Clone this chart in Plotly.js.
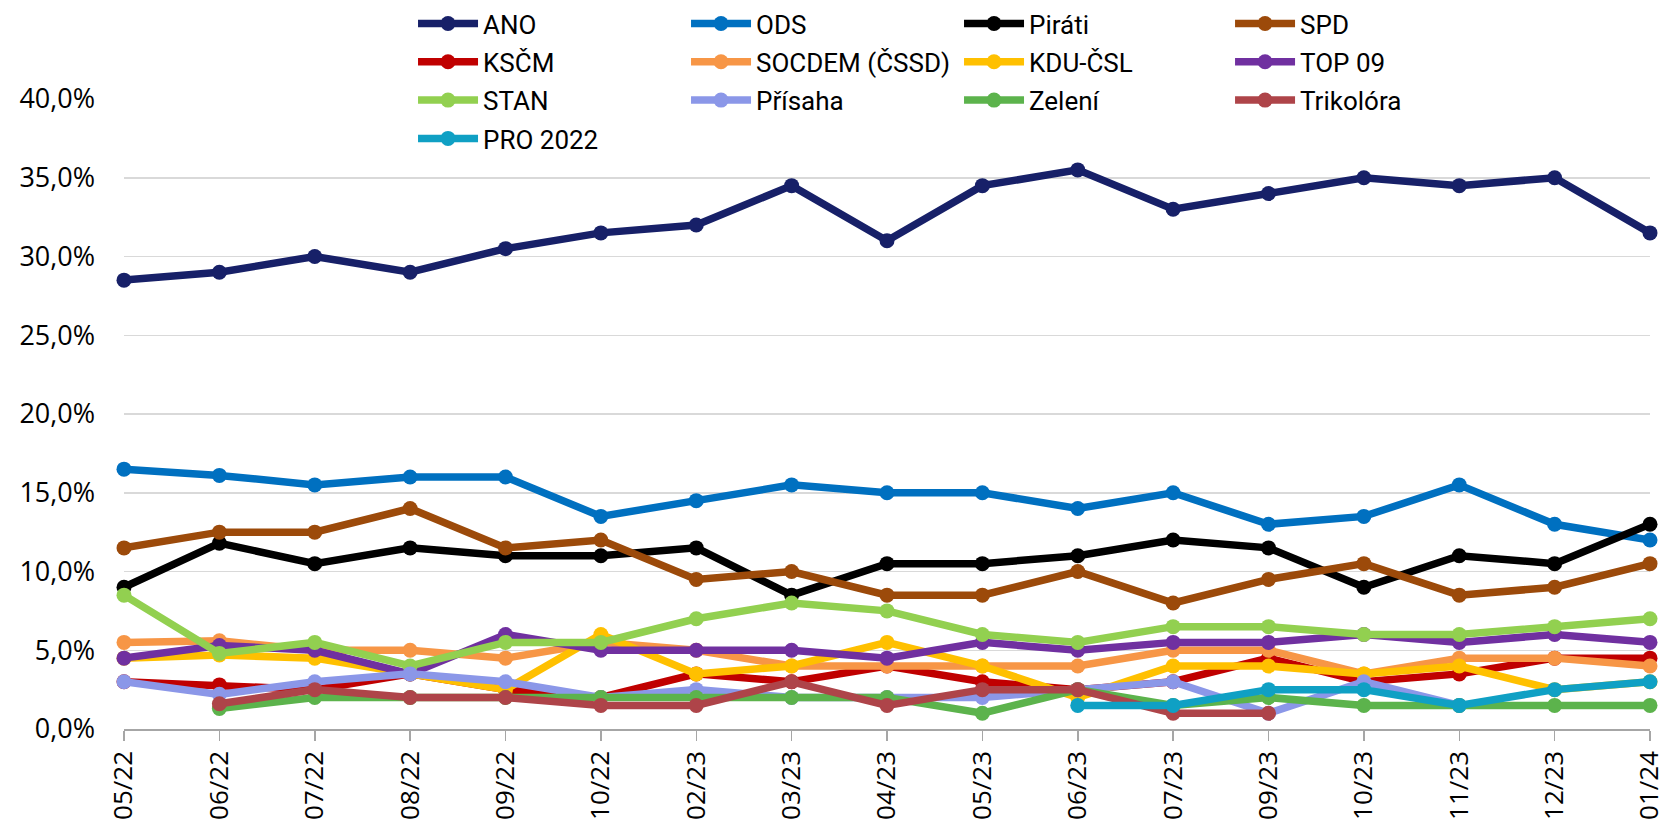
<!DOCTYPE html>
<html>
<head>
<meta charset="utf-8">
<script src="https://cdn.plot.ly/plotly-3.0.1.min.js"></script>
<style>
  html, body { margin: 0; padding: 0; background: #fff; }
  #chart { width: 1665px; height: 819px; }
</style>
</head>
<body>
<div id="chart"></div>
<script>
// Categories (survey months)
const categories = ['05/22','06/22','07/22','08/22','09/22','10/22','02/23','03/23','04/23','05/23','06/23','07/23','09/23','10/23','11/23','12/23','01/24'];

// Series values (%)
const ano       = [28.5, 29, 30, 29, 30.5, 31.5, 32, 34.5, 31, 34.5, 35.5, 33, 34, 35, 34.5, 35, 31.5];
const ods       = [16.5, 16.1, 15.5, 16, 16, 13.5, 14.5, 15.5, 15, 15, 14, 15, 13, 13.5, 15.5, 13, 12];
const pirati    = [9, 11.8, 10.5, 11.5, 11, 11, 11.5, 8.5, 10.5, 10.5, 11, 12, 11.5, 9, 11, 10.5, 13];
const spd       = [11.5, 12.5, 12.5, 14, 11.5, 12, 9.5, 10, 8.5, 8.5, 10, 8, 9.5, 10.5, 8.5, 9, 10.5];
const kscm      = [3, 2.8, 2.5, 3.5, 2.5, 2, 3.5, 3, 4, 3, 2.5, 3, 4.5, 3, 3.5, 4.5, 4.5];
const socdem    = [5.5, 5.6, 5, 5, 4.5, 5.5, 5, 4, 4, 4, 4, 5, 5, 3.5, 4.5, 4.5, 4];
const kdu       = [4.5, 4.7, 4.5, 3.5, 2.5, 6, 3.5, 4, 5.5, 4, 2, 4, 4, 3.5, 4, 2.5, 3];
const top09     = [4.5, 5.3, 5, 3.5, 6, 5, 5, 5, 4.5, 5.5, 5, 5.5, 5.5, 6, 5.5, 6, 5.5];
const stan      = [8.5, 4.8, 5.5, 4, 5.5, 5.5, 7, 8, 7.5, 6, 5.5, 6.5, 6.5, 6, 6, 6.5, 7];
const prisaha   = [3, 2.2, 3, 3.5, 3, 2, 2.5, 2, 2, 2, 2.5, 3, 1, 3, 1.5, null, null];
const zeleni    = [null, 1.3, 2, 2, 2, 2, 2, 2, 2, 1, 2.5, 1.5, 2, 1.5, 1.5, 1.5, 1.5];
const trikolora = [null, 1.6, 2.5, 2, 2, 1.5, 1.5, 3, 1.5, 2.5, 2.5, 1, 1, null, null, null, null];
const pro2022   = [null, null, null, null, null, null, null, null, null, null, 1.5, 1.5, 2.5, 2.5, 1.5, 2.5, 3];

// Series names, colours, legend columns
const seriesNames  = ['ANO', 'ODS', 'Piráti', 'SPD', 'KSČM', 'SOCDEM (ČSSD)', 'KDU-ČSL', 'TOP 09', 'STAN', 'Přísaha', 'Zelení', 'Trikolóra', 'PRO 2022'];
const seriesData   = [ano, ods, pirati, spd, kscm, socdem, kdu, top09, stan, prisaha, zeleni, trikolora, pro2022];
const seriesColors = ['#172068', '#0070C0', '#000000', '#9C4A0A', '#C00000', '#F79646', '#FFC000', '#7030A0', '#92D050', '#8B97E8', '#5CB34C', '#AE4449', '#0FA0C4'];
const legendCols   = ['legend', 'legend2', 'legend3', 'legend4', 'legend', 'legend2', 'legend3', 'legend4', 'legend', 'legend2', 'legend3', 'legend4', 'legend'];

const traces = seriesNames.map((name, i) => ({
  type: 'scatter',
  mode: 'lines+markers',
  name: name,
  x: categories,
  y: seriesData[i],
  legend: legendCols[i],
  legendgroup: 'g' + i,
  line: { color: seriesColors[i], width: 7.5 },
  marker: { color: seriesColors[i], size: 15 },
  cliponaxis: false,
  connectgaps: false,
  hoverinfo: 'skip'
}));

const legendFont = { family: 'Roboto, Liberation Sans, sans-serif', size: 26, color: '#000' };
function mkLegend(x) {
  return {
    orientation: 'v',
    x: x, xanchor: 'left',
    y: 1.157, yanchor: 'top',
    font: legendFont,
    bgcolor: 'rgba(0,0,0,0)',
    borderwidth: 0,
    itemwidth: 60,
    tracegroupgap: 1.5,
    itemclick: false,
    itemdoubleclick: false
  };
}

const layout = {
  width: 1665,
  height: 819,
  margin: { l: 124, r: 15, t: 99, b: 90, autoexpand: false },
  paper_bgcolor: '#ffffff',
  plot_bgcolor: '#ffffff',
  separators: ', ',
  showlegend: true,
  legend: mkLegend(0.1894),
  legend2: mkLegend(0.3683),
  legend3: mkLegend(0.5472),
  legend4: mkLegend(0.7248),
  xaxis: {
    type: 'category',
    range: [0, categories.length - 1],
    showgrid: false,
    zeroline: false,
    showline: true,
    linecolor: '#a6a6a6',
    linewidth: 1.5,
    ticks: 'outside',
    ticklen: 10,
    tickwidth: 1.5,
    tickcolor: '#a6a6a6',
    tickangle: -90,
    tickfont: { family: 'Open Sans, DejaVu Sans, sans-serif', size: 26, color: '#000' },
    fixedrange: true
  },
  yaxis: {
    range: [0, 40],
    dtick: 5,
    tick0: 0,
    tickformat: '.1f',
    ticksuffix: '%',
    showgrid: true,
    gridcolor: '#d9d9d9',
    gridwidth: 1.5,
    zeroline: false,
    showline: false,
    ticks: '',
    ticklabelstandoff: 28,
    tickfont: { family: 'Open Sans, DejaVu Sans, sans-serif', size: 27, color: '#000' },
    fixedrange: true
  }
};

Plotly.newPlot('chart', traces, layout, { displayModeBar: false, staticPlot: true });
</script>
</body>
</html>
